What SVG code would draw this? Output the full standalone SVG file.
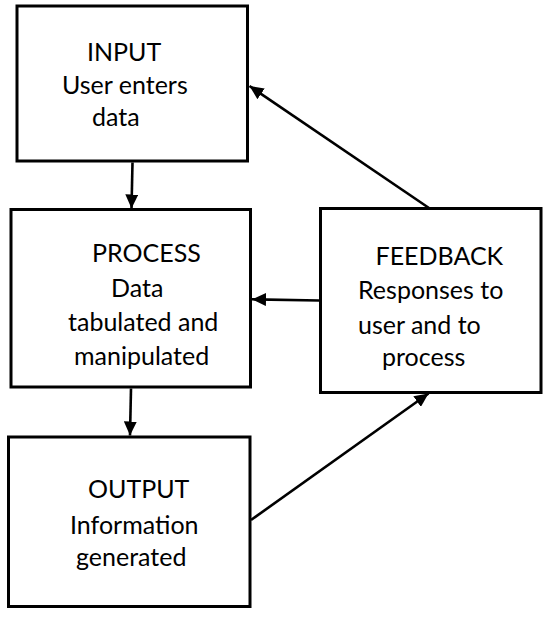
<svg xmlns="http://www.w3.org/2000/svg" width="550" height="618" viewBox="0 0 550 618">
<style>
.box{fill:#fff;stroke:#000;stroke-width:3}
.lbl{font-family:Lato,"Open Sans","Liberation Sans",sans-serif;font-size:25px;fill:#000}
.con{stroke:#000;stroke-width:2.6;fill:none;marker-end:url(#ah)}
</style>
<defs>
<marker id="ah" viewBox="0 0 14 13" refX="14" refY="6.5" markerWidth="14" markerHeight="13" markerUnits="userSpaceOnUse" orient="auto">
<path d="M0,0 L14,6.5 L0,13 Z" fill="#000"/>
</marker>
</defs>
<rect width="550" height="618" fill="#fff"/>
<g id="input">
<rect class="box" x="17" y="6" width="230.5" height="155"/>
<text class="lbl" x="87" y="61">INPUT</text>
<text class="lbl" x="62" y="94">User enters</text>
<text class="lbl" x="92" y="126">data</text>
</g>
<g id="process">
<rect class="box" x="11" y="209.5" width="239.5" height="177.5"/>
<text class="lbl" x="92" y="262">PROCESS</text>
<text class="lbl" x="111" y="296.5">Data</text>
<text class="lbl" x="68" y="331">tabulated and</text>
<text class="lbl" x="74" y="365">manipulated</text>
</g>
<g id="feedback">
<rect class="box" x="320.5" y="208.5" width="220.5" height="184"/>
<text class="lbl" x="375.5" y="265">FEEDBACK</text>
<text class="lbl" x="358" y="298.5">Responses to</text>
<text class="lbl" x="358" y="333.5">user and to</text>
<text class="lbl" x="382" y="366">process</text>
</g>
<g id="output">
<rect class="box" x="8.5" y="437" width="241.5" height="169.5"/>
<text class="lbl" x="88" y="498">OUTPUT</text>
<text class="lbl" x="70" y="534">Information</text>
<text class="lbl" x="76" y="566">generated</text>
</g>
<g id="connectors">
<line class="con" x1="132.5" y1="162.5" x2="131.5" y2="208.5"/>
<line class="con" x1="131" y1="388.5" x2="130" y2="435.5"/>
<line class="con" x1="319" y1="300.5" x2="252" y2="299.3"/>
<line class="con" x1="429" y1="208" x2="249.5" y2="86"/>
<line class="con" x1="251" y1="520" x2="428.5" y2="393.5"/>
</g>
</svg>
